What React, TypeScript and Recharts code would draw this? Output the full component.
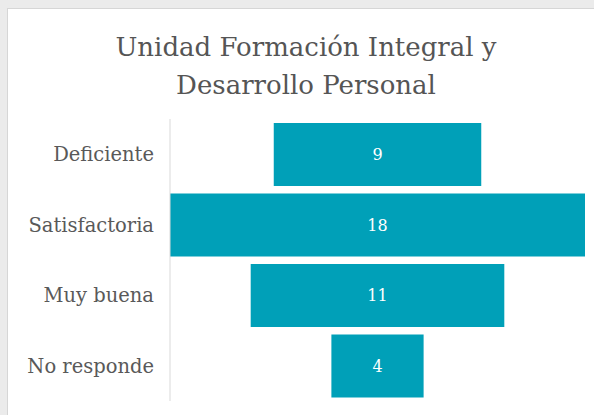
import { Bar, BarChart, LabelList, XAxis, YAxis } from 'recharts'

const categories = ['Deficiente', 'Satisfactoria', 'Muy buena', 'No responde']
const counts = [9, 18, 11, 4]
const titleLines = ['Unidad Formación Integral y', 'Desarrollo Personal']

const maxCount = Math.max(...counts)
// invisible "pad" bar centres each visible bar, giving the funnel shape
const rows = categories.map((name, i) => ({
  name,
  pad: (maxCount - counts[i]) / 2,
  value: counts[i],
}))

const serif = '"DejaVu Serif", serif'
const grey = '#595959'

export default function App() {
  return (
    <div style={{ position: 'absolute', left: 0, top: 0, width: 594, height: 415, background: '#ebebeb', overflow: 'hidden' }}>
      <div style={{ position: 'absolute', left: 7, top: 8, width: 600, height: 420, background: '#fff', borderLeft: '1px solid #d6d6d6', borderTop: '1px solid #d6d6d6' }} />
      <div style={{ position: 'absolute', left: 6, top: 28, width: 600, textAlign: 'center', fontFamily: serif, fontSize: 26, lineHeight: '38px', color: '#555' }}>
        {titleLines.map((t) => <div key={t}>{t}</div>)}
      </div>
      <div style={{ position: 'absolute', left: 0, top: 0 }}>
        <BarChart
          width={594}
          height={415}
          data={rows}
          layout="vertical"
          margin={{ top: 119, right: 9, left: 0, bottom: 14 }}
          barCategoryGap={4}
        >
          <XAxis type="number" domain={[0, maxCount]} hide />
          <YAxis
            type="category"
            dataKey="name"
            width={170}
            axisLine={{ stroke: '#d9d9d9' }}
            tickLine={false}
            tickMargin={10}
            tick={{ fill: grey, fontSize: 19.5, fontFamily: serif }}
          />
          <Bar dataKey="pad" stackId="f" fill="transparent" isAnimationActive={false} />
          <Bar dataKey="value" stackId="f" fill="#00a0b8" isAnimationActive={false}>
            <LabelList dataKey="value" position="center" fill="#fff" fontSize={16} fontFamily={serif} />
          </Bar>
        </BarChart>
      </div>
    </div>
  )
}
